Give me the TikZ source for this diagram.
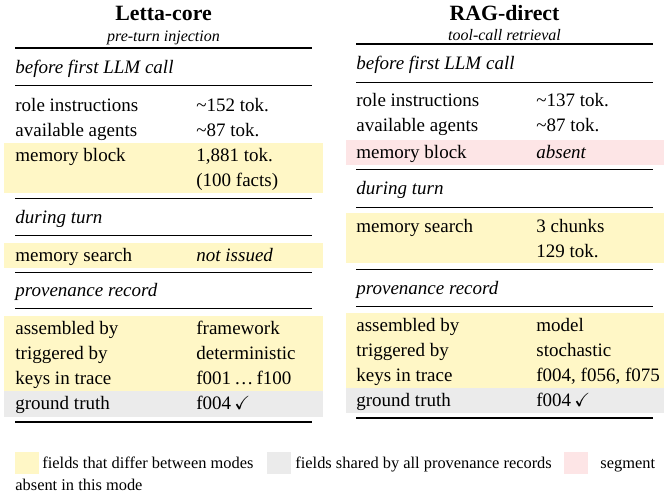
\documentclass[tikz,border=0pt]{standalone}
\usepackage{fontspec}
\setmainfont{Liberation Serif}
\usepackage{amssymb}
\definecolor{diffyel}{HTML}{FFF7C6}
\definecolor{sharegray}{HTML}{EBEBEB}
\definecolor{absentpink}{HTML}{FDE5E6}
\newcommand{\bodyfont}{\rmfamily\fontsize{9.5}{11.5}\selectfont}
\tikzset{
    TT/.style ={font=\rmfamily\fontsize{10.9}{13}\selectfont\bfseries, inner sep=0pt, anchor=base},
    ST/.style ={font=\rmfamily\fontsize{8}{10}\selectfont\itshape, inner sep=0pt, anchor=base},
    HD/.style ={font=\bodyfont\itshape, inner sep=0pt, anchor=base west},
    LB/.style ={font=\bodyfont, inner sep=0pt, anchor=base west},
    LG/.style ={font=\rmfamily\fontsize{8.2}{10}\selectfont, inner sep=0pt, anchor=base west},
    TR/.style ={line width=0.8pt},
    NR/.style ={line width=0.5pt},
    YF/.style ={fill=diffyel},
    GF/.style ={fill=sharegray},
    PF/.style ={fill=absentpink}}

\begin{document}
\begin{tikzpicture}[x=0.5pt,y=-0.5pt]
        \useasboundingbox (0,0) rectangle (667,495);
        % left table: Letta-core
        \fill[YF] (4,143) rectangle (323,193);
        \fill[YF] (4,243) rectangle (323,268);
        \fill[YF] (4,316) rectangle (323,391);
        \fill[GF] (4,391) rectangle (323,417);
        \draw[TR] (15,48) -- (312,48);
        \draw[NR] (15,85) -- (312,85);
        \draw[NR] (15,198) -- (312,198);
        \draw[NR] (15,235) -- (312,235);
        \draw[NR] (15,272) -- (312,272);
        \draw[NR] (15,308) -- (312,308);
        \draw[TR] (15,422) -- (312,422);
        \node[TT] (Lt) at (163.5,20) {Letta-core};
        \node[ST] (Ls) at (163.5,41) {pre-turn injection};
        \node[HD] (Lh1) at (15,73) {before first LLM call};
        \node[LB] (Lk1) at (15,111) {role instructions};
        \node[LB] (Lv1) at (196,111) {\textasciitilde 152 tok.};
        \node[LB] (Lk2) at (15,136) {available agents};
        \node[LB] (Lv2) at (196,136) {\textasciitilde 87 tok.};
        \node[LB] (Lk3) at (15,161) {memory block};
        \node[LB] (Lv3) at (196,161) {1,881 tok.};
        \node[LB] (Lv3b) at (196,186) {(100 facts)};
        \node[HD] (Lh2) at (15,223) {during turn};
        \node[LB] (Lk4) at (15,261) {memory search};
        \node[HD] (Lv4) at (196,261) {not issued};
        \node[HD] (Lh3) at (15,296) {provenance record};
        \node[LB] (Lk5) at (15,334) {assembled by};
        \node[LB] (Lv5) at (196,334) {framework};
        \node[LB] (Lk6) at (15,359) {triggered by};
        \node[LB] (Lv6) at (196,359) {deterministic};
        \node[LB] (Lk7) at (15,384) {keys in trace};
        \node[LB] (Lv7) at (196,384) {f001\,\dots\,f100};
        \node[LB] (Lk8) at (15,409) {ground truth};
        \node[LB] (Lv8) at (196,409) {f004\,\checkmark};
        % right table: RAG-direct
        \fill[PF] (346,140) rectangle (664,165);
        \fill[YF] (346,213) rectangle (664,263);
        \fill[YF] (346,313) rectangle (664,388);
        \fill[GF] (346,388) rectangle (664,413);
        \draw[TR] (356,44) -- (653,44);
        \draw[NR] (356,82) -- (653,82);
        \draw[NR] (356,169) -- (653,169);
        \draw[NR] (356,207) -- (653,207);
        \draw[NR] (356,269) -- (653,269);
        \draw[NR] (356,306) -- (653,306);
        \draw[TR] (356,418) -- (653,418);
        \node[TT] (Rt) at (504.5,20) {RAG-direct};
        \node[ST] (Rs) at (504.5,40) {tool-call retrieval};
        \node[HD] (Rh1) at (356,69) {before first LLM call};
        \node[LB] (Rk1) at (356,106) {role instructions};
        \node[LB] (Rv1) at (536,106) {\textasciitilde 137 tok.};
        \node[LB] (Rk2) at (356,131) {available agents};
        \node[LB] (Rv2) at (536,131) {\textasciitilde 87 tok.};
        \node[LB] (Rk3) at (356,158) {memory block};
        \node[HD] (Rv3) at (536,158) {absent};
        \node[HD] (Rh2) at (356,194) {during turn};
        \node[LB] (Rk4) at (356,232) {memory search};
        \node[LB] (Rv4) at (536,232) {3 chunks};
        \node[LB] (Rv4b) at (536,257) {129 tok.};
        \node[HD] (Rh3) at (356,294) {provenance record};
        \node[LB] (Rk5) at (356,331) {assembled by};
        \node[LB] (Rv5) at (536,331) {model};
        \node[LB] (Rk6) at (356,356) {triggered by};
        \node[LB] (Rv6) at (536,356) {stochastic};
        \node[LB] (Rk7) at (356,381) {keys in trace};
        \node[LB] (Rv7) at (536,381) {f004, f056, f075};
        \node[LB] (Rk8) at (356,406) {ground truth};
        \node[LB] (Rv8) at (536,406) {f004\,\checkmark};
        % legend
        \fill[YF] (15,452) rectangle (39,474);
        \fill[GF] (267,452) rectangle (291,474);
        \fill[PF] (564,452) rectangle (588,474);
        \node[LG] (G1) at (42,468) {fields that differ between modes};
        \node[LG] (G2) at (295,468) {fields shared by all provenance records};
        \node[LG] (G3) at (600,468) {segment};
        \node[LG] (G3b) at (15,490) {absent in this mode};
    \end{tikzpicture}
\end{document}
